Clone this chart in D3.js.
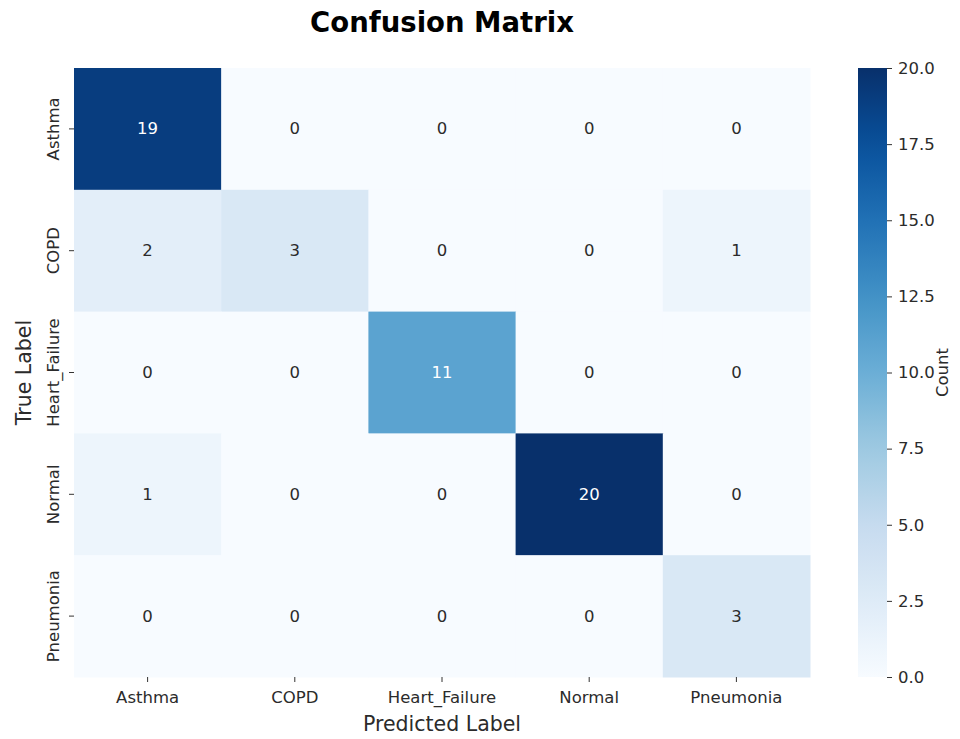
<!DOCTYPE html>
<html>
<head>
<meta charset="utf-8">
<script src="https://cdn.jsdelivr.net/npm/d3@7"></script>
<style>
  html, body { margin: 0; padding: 0; background: #fff; }
  svg { display: block; font-family: "DejaVu Sans", sans-serif; }
</style>
</head>
<body>
<svg id="chart" width="960" height="739"></svg>
<script>
// Class names shared by both axes
const classes = ["Asthma", "COPD", "Heart_Failure", "Normal", "Pneumonia"];

// Confusion counts, one row per true class
const rowAsthma       = [19, 0, 0, 0, 0];
const rowCOPD         = [2, 3, 0, 0, 1];
const rowHeartFailure = [0, 0, 11, 0, 0];
const rowNormal       = [1, 0, 0, 20, 0];
const rowPneumonia    = [0, 0, 0, 0, 3];
const matrix = [rowAsthma, rowCOPD, rowHeartFailure, rowNormal, rowPneumonia];

// Colour bar ticks
const colorbarTicks = [0, 2.5, 5, 7.5, 10, 12.5, 15, 17.5, 20];
const colorMin = 0, colorMax = 20;

// Blues ramp (ColorBrewer stops, linearly interpolated)
const bluesStops = ["#f7fbff","#deebf7","#c6dbef","#9ecae1","#6baed6","#4292c6","#2171b5","#08519c","#08306b"];

const svg = d3.select("#chart");
const textColor = "#2b2b2b";

const hm = { left: 74, right: 810, top: 68, bottom: 677 };

const x = d3.scaleBand().domain(classes).range([hm.left, hm.right]).padding(0);
const y = d3.scaleBand().domain(classes).range([hm.top, hm.bottom]).padding(0);

const color = d3.scaleLinear()
  .domain(bluesStops.map((_, i) => colorMin + (colorMax - colorMin) * i / (bluesStops.length - 1)))
  .range(bluesStops)
  .interpolate(d3.interpolateRgb)
  .clamp(true);

const cells = [];
matrix.forEach((row, i) => row.forEach((v, j) => cells.push({ t: classes[i], p: classes[j], v })));

// Relative luminance decides white or dark annotation text
function luminance(c) {
  const rgb = d3.rgb(c);
  const f = ch => { ch /= 255; return ch <= 0.03928 ? ch / 12.92 : Math.pow((ch + 0.055) / 1.055, 2.4); };
  return 0.2126 * f(rgb.r) + 0.7152 * f(rgb.g) + 0.0722 * f(rgb.b);
}

const g = svg.append("g");
g.selectAll("rect.cell").data(cells).join("rect")
  .attr("class", "cell")
  .attr("x", d => x(d.p))
  .attr("y", d => y(d.t))
  .attr("width", x.bandwidth() + 0.5)
  .attr("height", y.bandwidth() + 0.5)
  .attr("fill", d => color(d.v));

g.selectAll("text.annot").data(cells).join("text")
  .attr("class", "annot")
  .attr("x", d => x(d.p) + x.bandwidth() / 2)
  .attr("y", d => y(d.t) + y.bandwidth() / 2)
  .attr("text-anchor", "middle")
  .attr("dominant-baseline", "central")
  .attr("font-size", 16.5)
  .attr("fill", d => luminance(color(d.v)) > 0.408 ? textColor : "#ffffff")
  .text(d => d.v);

// X axis
const xAxis = svg.append("g")
  .attr("transform", `translate(0,${hm.bottom})`)
  .call(d3.axisBottom(x).tickSize(5).tickPadding(9));
xAxis.select(".domain").remove();
xAxis.selectAll(".tick line").attr("stroke", "#333").attr("stroke-width", 1);
xAxis.selectAll(".tick text").attr("font-size", 16.5).attr("fill", textColor)
  .attr("font-family", "DejaVu Sans, sans-serif");

// Y axis with rotated labels
const yAxis = svg.append("g")
  .attr("transform", `translate(${hm.left},0)`)
  .call(d3.axisLeft(y).tickSize(5).tickPadding(6));
yAxis.select(".domain").remove();
yAxis.selectAll(".tick line").attr("stroke", "#333").attr("stroke-width", 1);
yAxis.selectAll(".tick text")
  .attr("font-size", 16.5).attr("fill", textColor)
  .attr("font-family", "DejaVu Sans, sans-serif")
  .attr("x", null).attr("dy", null)
  .attr("text-anchor", "middle")
  .attr("transform", "translate(-15,0) rotate(-90)");

// Axis titles
svg.append("text")
  .attr("x", (hm.left + hm.right) / 2).attr("y", 731)
  .attr("text-anchor", "middle").attr("font-size", 20.5).attr("fill", textColor)
  .text("Predicted Label");

svg.append("text")
  .attr("transform", `translate(31,${(hm.top + hm.bottom) / 2}) rotate(-90)`)
  .attr("text-anchor", "middle").attr("font-size", 20.5).attr("fill", textColor)
  .text("True Label");

// Title
svg.append("text")
  .attr("x", (hm.left + hm.right) / 2).attr("y", 32)
  .attr("text-anchor", "middle").attr("font-size", 27.5).attr("font-weight", "bold")
  .attr("fill", "#000")
  .text("Confusion Matrix");

// Colour bar
const cb = { left: 858, width: 29 };
const cy = d3.scaleLinear().domain([colorMin, colorMax]).range([hm.bottom, hm.top]);

const defs = svg.append("defs");
const grad = defs.append("linearGradient")
  .attr("id", "cbGrad").attr("x1", 0).attr("x2", 0).attr("y1", 1).attr("y2", 0);
d3.range(0, 1.0001, 0.05).forEach(t => {
  grad.append("stop").attr("offset", t).attr("stop-color", color(colorMin + t * (colorMax - colorMin)));
});

svg.append("rect")
  .attr("x", cb.left).attr("y", hm.top)
  .attr("width", cb.width).attr("height", hm.bottom - hm.top)
  .attr("fill", "url(#cbGrad)");

const cAxis = svg.append("g")
  .attr("transform", `translate(${cb.left + cb.width},0)`)
  .call(d3.axisRight(cy).tickValues(colorbarTicks).tickFormat(d3.format(".1f")).tickSize(5).tickPadding(6));
cAxis.select(".domain").remove();
cAxis.selectAll(".tick line").attr("stroke", "#333").attr("stroke-width", 1);
cAxis.selectAll(".tick text").attr("font-size", 16.5).attr("fill", textColor)
  .attr("font-family", "DejaVu Sans, sans-serif");

svg.append("text")
  .attr("transform", `translate(948,${(hm.top + hm.bottom) / 2}) rotate(-90)`)
  .attr("text-anchor", "middle").attr("font-size", 16.5).attr("fill", textColor)
  .text("Count");
</script>
</body>
</html>
